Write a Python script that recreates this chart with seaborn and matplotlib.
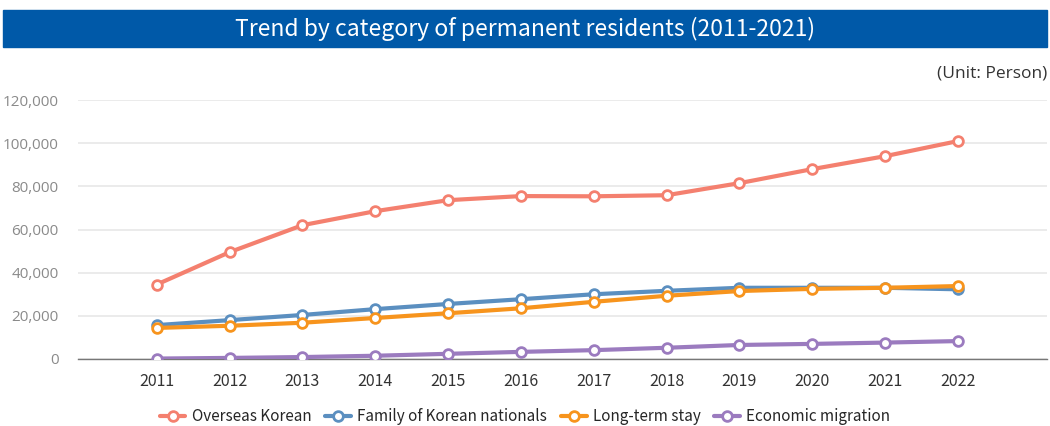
import pandas as pd
import seaborn as sns
import matplotlib
import matplotlib.pyplot as plt
from matplotlib.patches import Rectangle
from matplotlib.ticker import FuncFormatter

matplotlib.use("Agg")

years = list(range(2011, 2023))
overseas_korean = [34500, 49500, 62000, 68500, 73600, 75500, 75400, 75900, 81500, 88000, 94000, 101000]
family_korean = [15700, 18000, 20400, 23100, 25500, 27700, 30000, 31600, 33000, 33000, 33000, 32300]
long_term = [14400, 15400, 16800, 19000, 21200, 23500, 26500, 29300, 31500, 32500, 33000, 33800]
economic = [200, 500, 900, 1500, 2400, 3300, 4100, 5200, 6500, 7000, 7600, 8300]

categories = ["Overseas Korean", "Family of Korean nationals", "Long-term stay", "Economic migration"]
colors = ["#f4806f", "#5b8fc0", "#f7941d", "#9b7bbf"]


def main():
    sns.set_style("white")
    plt.rcParams["font.family"] = ["Noto Sans CJK KR", "DejaVu Sans"]

    series = [overseas_korean, family_korean, long_term, economic]

    fig = plt.figure(figsize=(10.5, 4.26), dpi=100)
    ax = fig.add_axes([0.0743, 0.1573, 0.9227, 0.6078])

    for i, (name, vals, col) in enumerate(zip(categories, series, colors)):
        df = pd.DataFrame({"year": years, "value": vals})
        sns.lineplot(data=df, x="year", y="value", color=col, label=name,
                     marker="o", markersize=7, markerfacecolor="white",
                     markeredgecolor=col, markeredgewidth=2, linewidth=3,
                     ax=ax, zorder=3 + i)

    ax.set_ylim(0, 120000)
    ax.set_xlim(2009.92, 2023.22)
    ax.set_yticks(range(0, 120001, 20000))
    ax.set_xticks(years)
    ax.yaxis.set_major_formatter(FuncFormatter(lambda v, p: f"{int(v):,}"))
    ax.grid(axis="y", color="#e8e8e8", linewidth=1.2)
    ax.set_axisbelow(True)
    for side in ["top", "right", "left"]:
        ax.spines[side].set_visible(False)
    ax.spines["bottom"].set_color("#777777")
    ax.spines["bottom"].set_linewidth(1)
    ax.tick_params(axis="y", length=0, pad=14, labelsize=11, labelcolor="#8a8a8a")
    ax.tick_params(axis="x", length=0, pad=10, labelsize=11.5, labelcolor="#333333")
    for lbl in ax.get_yticklabels():
        lbl.set_family(["Open Sans", "DejaVu Sans"])
    ax.set_xlabel("")
    ax.set_ylabel("")

    ax.legend(loc="center", bbox_to_anchor=(0.5, 0.022), bbox_transform=fig.transFigure,
              ncol=4, frameon=False, fontsize=11, handlelength=1.7,
              columnspacing=0.9, handletextpad=0.4)

    # title banner
    fig.patches.append(Rectangle((3 / 1050, 1 - 47 / 426), 1044 / 1050, 37 / 426,
                                 transform=fig.transFigure, color="#0059a8", zorder=0))
    fig.text(0.5, 1 - 28.5 / 426, "Trend by category of permanent residents (2011-2021)",
             ha="center", va="center", color="white", fontsize=16.5)
    fig.text(1047 / 1050, 1 - 74 / 426, "(Unit: Person)", ha="right", va="center",
             color="#333333", fontsize=12.5, family=["Open Sans", "DejaVu Sans"])

    plt.savefig("out.png", dpi=100)


if __name__ == "__main__":
    main()
